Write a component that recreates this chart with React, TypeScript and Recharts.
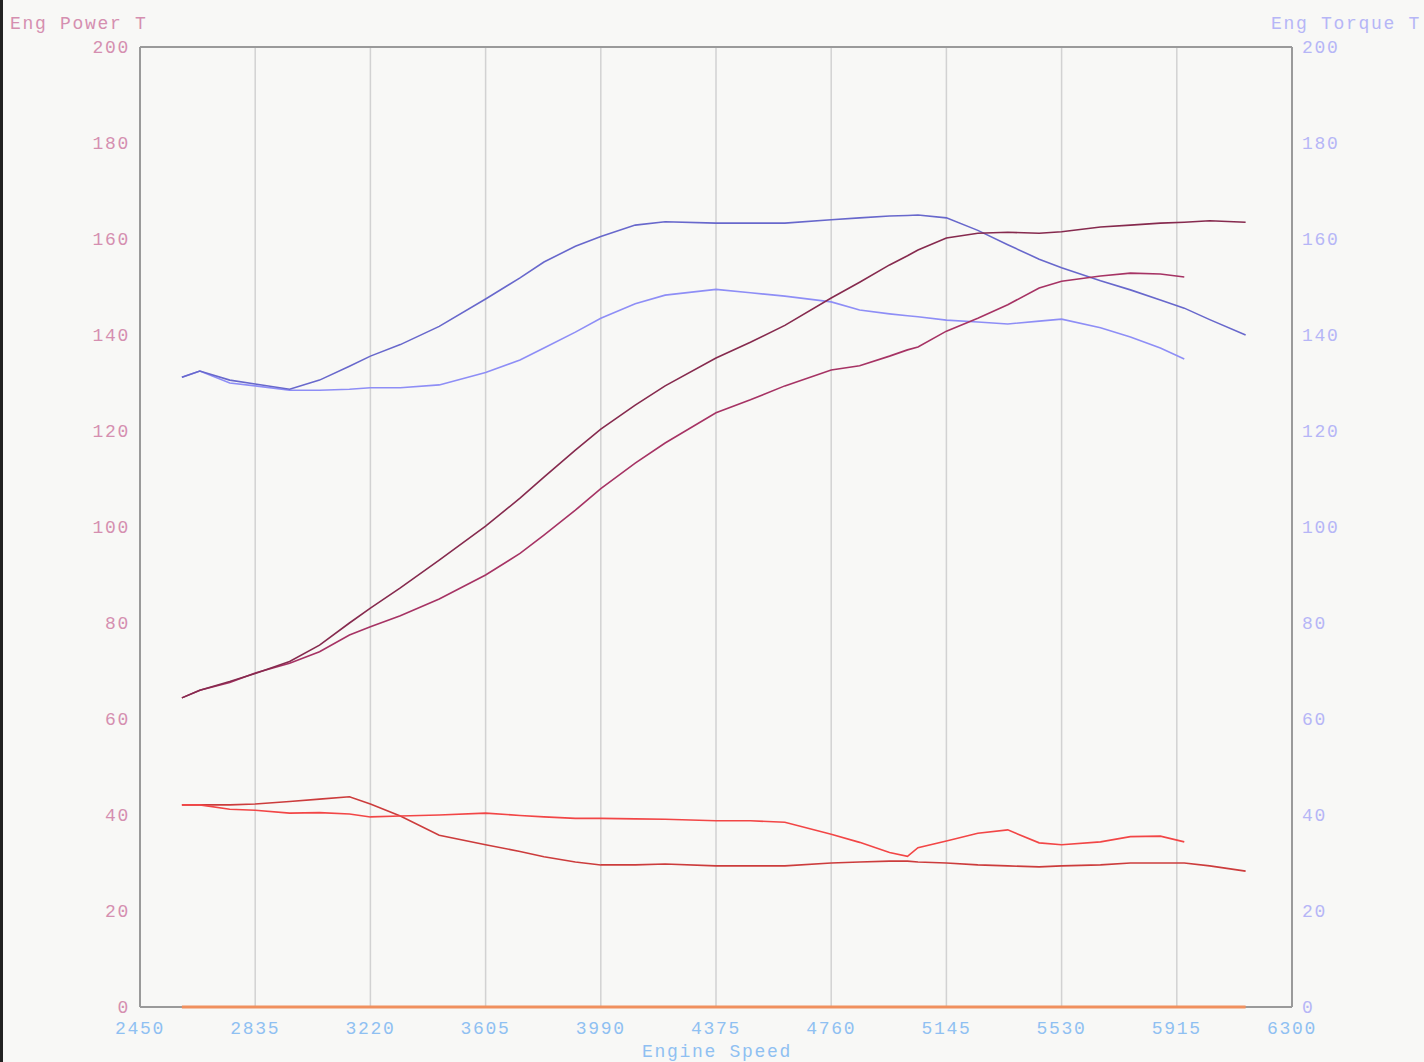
import { LineChart, Line, XAxis, YAxis, CartesianGrid, ReferenceLine } from "recharts";

// engine speed samples (rpm)
const rpm = [
  2590, 2650, 2750, 2835, 2950, 3050, 3150, 3220, 3320, 3450, 3605, 3720, 3800, 3905, 3990, 4105, 4205, 4375,
  4490, 4605, 4760, 4855, 4955, 5015, 5050, 5145, 5250, 5350, 5455, 5530, 5660, 5760, 5860, 5940, 6025, 6145,
];

// run A (longer pull)
const powerA = [
  64.4, 66, 67.8, 69.5, 72, 75.4, 80, 83.1, 87.3, 93.1, 100.2, 106, 110.4, 116, 120.4, 125.4, 129.4, 135.2,
  138.5, 142, 147.7, 151, 154.6, 156.5, 157.7, 160.2, 161.2, 161.4, 161.2, 161.5, 162.5, 162.9, 163.3, 163.5, 163.8, 163.5,
];
const torqueA = [
  131.2, 132.5, 130.6, 129.8, 128.7, 130.6, 133.5, 135.6, 138, 141.8, 147.5, 151.9, 155.2, 158.5, 160.5, 162.9, 163.6, 163.3,
  163.3, 163.3, 164, 164.4, 164.8, 164.9, 165, 164.4, 161.8, 158.8, 155.8, 154, 151.3, 149.4, 147.3, 145.6, 143.2, 140,
];
const redA = [
  42.1, 42.1, 42.1, 42.3, 42.8, 43.3, 43.8, 42.3, 39.8, 35.8, 33.8, 32.4, 31.3, 30.2, 29.6, 29.6, 29.8, 29.4,
  29.4, 29.4, 30, 30.2, 30.4, 30.4, 30.2, 30, 29.6, 29.4, 29.2, 29.4, 29.6, 30, 30, 30, 29.4, 28.3,
];
const zeroA = [
  0, 0, 0, 0, 0, 0, 0, 0, 0, 0, 0, 0, 0, 0, 0, 0, 0, 0,
  0, 0, 0, 0, 0, 0, 0, 0, 0, 0, 0, 0, 0, 0, 0, 0, 0, 0,
];

// run B (ends at 5940)
const powerB = [
  64.4, 66, 67.6, 69.6, 71.6, 74, 77.5, 79.2, 81.5, 85, 90, 94.5, 98.3, 103.5, 108, 113.3, 117.5, 123.8,
  126.5, 129.4, 132.7, 133.6, 135.6, 136.9, 137.5, 140.8, 143.5, 146.3, 149.8, 151.2, 152.3, 152.9, 152.7, 152.1,
];
const torqueB = [
  131.2, 132.5, 130, 129.4, 128.5, 128.5, 128.7, 129, 129, 129.6, 132.2, 134.8, 137.3, 140.6, 143.5, 146.5, 148.3, 149.5,
  148.8, 148.1, 146.9, 145.2, 144.4, 144, 143.8, 143.1, 142.7, 142.3, 142.9, 143.3, 141.5, 139.6, 137.3, 135,
];
const redB = [
  42.1, 42.1, 41.2, 41, 40.4, 40.5, 40.2, 39.6, 39.8, 40, 40.4, 39.9, 39.6, 39.3, 39.3, 39.2, 39.1, 38.8,
  38.8, 38.5, 36, 34.3, 32.2, 31.4, 33.2, 34.6, 36.2, 36.9, 34.2, 33.8, 34.4, 35.5, 35.6, 34.4,
];

const xTicks = [2450, 2835, 3220, 3605, 3990, 4375, 4760, 5145, 5530, 5915, 6300];
const yTicks = [0, 20, 40, 60, 80, 100, 120, 140, 160, 180, 200];

const data = rpm.map((r, i) => ({
  rpm: r,
  powerA: powerA[i],
  torqueA: torqueA[i],
  redA: redA[i],
  zeroA: zeroA[i],
  powerB: powerB[i],
  torqueB: torqueB[i],
  redB: redB[i],
}));

const font = '"Liberation Mono", "DejaVu Sans Mono", monospace';
const pink = "#d58fb0";
const lavender = "#b6b6f6";
const skyblue = "#8fc0f2";

export default function App() {
  return (
    <div
      style={{
        position: "absolute",
        left: 0,
        top: 0,
        width: 1424,
        height: 1062,
        background: "#f8f8f6",
        fontFamily: font,
        overflow: "hidden",
      }}
    >
      <div style={{ position: "absolute", left: 0, top: 0, width: 3, height: 1062, background: "#222" }} />
      <div style={{ position: "absolute", left: 10, top: 14, fontSize: 18, lineHeight: "20px", letterSpacing: 1.7, color: pink }}>
        Eng Power T
      </div>
      <div style={{ position: "absolute", left: 1271, top: 14, fontSize: 18, lineHeight: "20px", letterSpacing: 1.7, color: lavender, whiteSpace: "nowrap" }}>
        Eng Torque T
      </div>
      <div style={{ position: "absolute", left: 0, width: 1434, top: 1042, textAlign: "center", fontSize: 18, lineHeight: "20px", letterSpacing: 1.7, color: skyblue }}>
        Engine Speed
      </div>
      <LineChart width={1424} height={1062} data={data} margin={{ top: 47, right: 0, left: 0, bottom: 0 }}>
        <CartesianGrid stroke="#d2d2d2" strokeWidth={1.5} />
        <XAxis
          dataKey="rpm"
          type="number"
          domain={[2450, 6300]}
          ticks={xTicks}
          interval={0}
          height={55}
          tickSize={0}
          tickMargin={14}
          axisLine={false}
          tick={{ fill: skyblue, fontSize: 18, fontFamily: font, letterSpacing: 1.7 }}
        />
        <YAxis
          yAxisId="left"
          domain={[0, 200]}
          ticks={yTicks}
          interval={0}
          width={140}
          tickSize={0}
          tickMargin={10}
          axisLine={{ stroke: "#9a9a9a", strokeWidth: 2 }}
          tick={{ fill: pink, fontSize: 18, fontFamily: font, letterSpacing: 1.7 }}
        />
        <YAxis
          yAxisId="right"
          orientation="right"
          domain={[0, 200]}
          ticks={yTicks}
          interval={0}
          width={132}
          tickSize={0}
          tickMargin={10}
          axisLine={{ stroke: "#9a9a9a", strokeWidth: 2 }}
          tick={{ fill: lavender, fontSize: 18, fontFamily: font, letterSpacing: 1.7 }}
        />
        <ReferenceLine yAxisId="left" y={200} stroke="#9a9a9a" strokeWidth={2} />
        <ReferenceLine yAxisId="left" y={0} stroke="#9a9a9a" strokeWidth={2} />
        <Line yAxisId="left" dataKey="zeroA" stroke="#f0905e" strokeWidth={3} dot={false} isAnimationActive={false} />
        <Line yAxisId="left" dataKey="redA" stroke="#cc3c3c" strokeWidth={1.6} dot={false} isAnimationActive={false} />
        <Line yAxisId="left" dataKey="redB" stroke="#f24646" strokeWidth={1.6} dot={false} isAnimationActive={false} />
        <Line yAxisId="right" dataKey="torqueB" stroke="#8e8ef6" strokeWidth={1.6} dot={false} isAnimationActive={false} />
        <Line yAxisId="right" dataKey="torqueA" stroke="#6868cc" strokeWidth={1.6} dot={false} isAnimationActive={false} />
        <Line yAxisId="left" dataKey="powerB" stroke="#a63364" strokeWidth={1.6} dot={false} isAnimationActive={false} />
        <Line yAxisId="left" dataKey="powerA" stroke="#862a4e" strokeWidth={1.6} dot={false} isAnimationActive={false} />
      </LineChart>
    </div>
  );
}
